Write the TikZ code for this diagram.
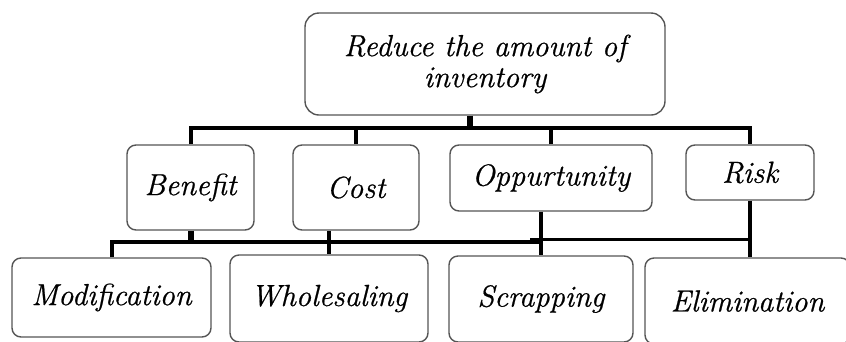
\documentclass[tikz,border=0pt]{standalone}
\usepackage{fontspec}
\newfontfamily\nodefont{Latin Modern Roman}[FakeBold=0.7]
\usepackage{xcolor}
\definecolor{cEdge}{HTML}{555555}
\usepackage{tikz}
\usetikzlibrary{positioning}
\tikzset{
  node-box/.style={draw=cEdge,line width=1.4pt,rounded corners=9pt,
    inner sep=0pt,align=center,
    font=\nodefont\itshape\fontsize{30.5}{31}\selectfont},
  node-root/.style={node-box,rounded corners=14pt},
  link-bus/.style={line width=4pt,draw=black},
  link-thin/.style={line width=3pt,draw=black},
  link-stem/.style={line width=6pt,draw=black},
}

\begin{document}
\begin{tikzpicture}[x=1pt,y=-1pt]
  \clip (0,0) rectangle (846,341);
  % goal
  \node[node-root,minimum width=360pt,minimum height=102pt] (goal) at (485,64)
    {Reduce the amount of\\inventory};
  % criteria
  \node[node-box,minimum width=127pt,minimum height=85pt] (benefit) at (190.5,187.5) {Benefit};
  \node[node-box,minimum width=126pt,minimum height=85pt] (cost) at (356,187.5) {Cost};
  \node[node-box,minimum width=202pt,minimum height=66pt] (oppurtunity) at (551,178) {Oppurtunity};
  \node[node-box,minimum width=128pt,minimum height=55pt] (risk) at (750,172.5) {Risk};
  % alternatives
  \node[node-box,minimum width=199pt,minimum height=79pt] (modification) at (111.5,297.5) {Modification};
  \node[node-box,minimum width=198pt,minimum height=87pt] (wholesaling) at (329,298.5) {Wholesaling};
  \node[node-box,minimum width=184pt,minimum height=86pt] (scrapping) at (541,299) {Scrapping};
  \node[node-box,minimum width=205pt,minimum height=86pt] (elimination) at (747.5,301) {Elimination};

  % upper tree
  \coordinate (busTop) at (470,128);
  \draw[link-stem] (goal.south -| busTop) -- (busTop);
  \draw[link-bus] (benefit.north) |- (busTop) -| (risk.north);
  \draw[link-bus] (cost.north) -- (cost.north |- busTop);
  \draw[link-bus] (oppurtunity.north) -- (oppurtunity.north |- busTop);

  % lower tree
  \coordinate (busLow) at (0,242);
  \coordinate (busRisk) at (0,239);
  \draw[link-bus] (modification.north) |- (scrapping.north |- busLow);
  \draw[link-stem] (benefit.south) -- (benefit.south |- busLow);
  \draw[link-bus] (wholesaling.north |- cost.south) -- (wholesaling.north);
  \draw[link-bus] (scrapping.north |- oppurtunity.south) -- (scrapping.north);
  \draw[link-thin] ([xshift=-11pt]scrapping.north |- busRisk) -- (risk.south |- busRisk);
  \draw[link-bus] (risk.south) -- (risk.south |- elimination.north);
\end{tikzpicture}
\end{document}
